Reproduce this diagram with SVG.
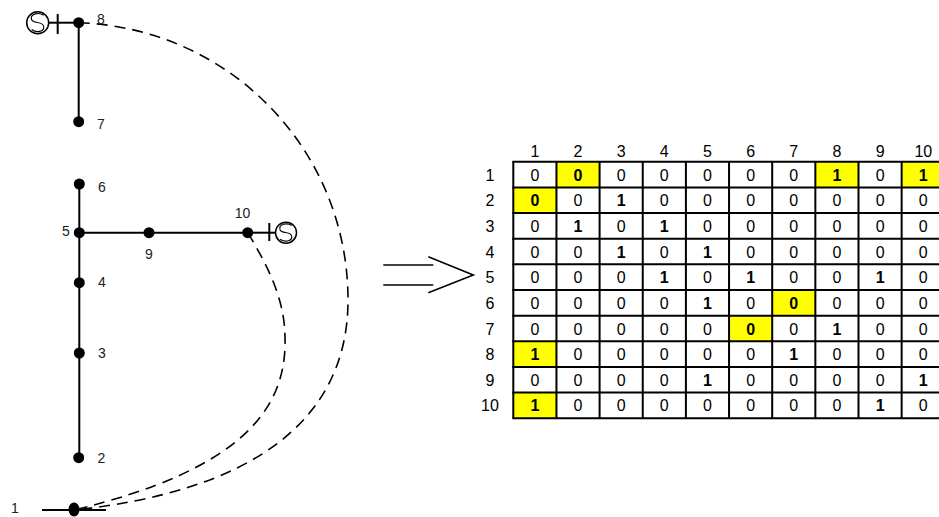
<svg xmlns="http://www.w3.org/2000/svg" width="939" height="517" viewBox="0 0 939 517">
<style>
.lbl{font-family:"Liberation Sans",Arial,sans-serif;font-size:14px;fill:#222}
.t{font-family:"Liberation Sans",Arial,sans-serif;font-size:16px;fill:#000;text-anchor:middle}
.b{font-weight:bold}
.ln{stroke:#000;stroke-width:2;fill:none}
.ds{stroke:#000;stroke-width:1.6;fill:none;stroke-dasharray:11 7}
.gen{stroke:#000;stroke-width:1.5;fill:#fff}
.s{stroke:#000;stroke-width:1.1;fill:none}
.grid{stroke:#000;stroke-width:2}
.hl{fill:#ffff00}
</style>
<rect width="939" height="517" fill="#fff"/>
<g id="connectors">
<line class="ln" x1="78.7" y1="22.7" x2="78.7" y2="121.7"/>
<line class="ln" x1="79.3" y1="184" x2="79.3" y2="457.7"/>
<line class="ln" x1="79.3" y1="232.7" x2="247.7" y2="232.7"/>
<line class="ln" x1="42" y1="510" x2="106" y2="510"/>
<path class="ds" d="M78.7,22.7 C230,28 348,150 348,300 C348,425 245,492 74,510"/>
<path class="ds" d="M247.7,232.7 C268,266 285,300 285,338 C287,410 240,470 74,510"/>
<line class="ln" x1="48.7" y1="22.7" x2="78.7" y2="22.7"/>
<line class="ln" x1="57.7" y1="14" x2="57.7" y2="34"/>
<line class="ln" x1="247.7" y1="232.7" x2="275.5" y2="232.7"/>
<line class="ln" x1="269.3" y1="223" x2="269.3" y2="241"/>
</g>
<g id="gen8">
<circle class="gen" cx="37.7" cy="22.7" r="11"/>
<path class="s" d="M43.7,15.2 C39,12 30,13.5 31.5,19.5 C33,24 43,21 43.7,26.5 C44.5,32 36,33 31.7,29.5"/>
</g>
<g id="gen10">
<circle class="gen" cx="286" cy="232.7" r="10.5"/>
<path class="s" d="M291.7,225.5 C287,222.5 278.5,224 280,229.7 C281.5,234 291,231 291.7,236.3 C292.5,241.5 284,242.5 280,239.2"/>
</g>
<g id="node8"><circle cx="78.7" cy="22.7" r="5.5"/><text class="lbl" x="97" y="24">8</text></g>
<g id="node7"><circle cx="78.7" cy="121.7" r="5.5"/><text class="lbl" x="97" y="129">7</text></g>
<g id="node6"><circle cx="79.3" cy="184" r="5.5"/><text class="lbl" x="98" y="191.5">6</text></g>
<g id="node5"><circle cx="79.3" cy="232.7" r="5.5"/><text class="lbl" x="62" y="236">5</text></g>
<g id="node9"><circle cx="149" cy="232.7" r="5.5"/><text class="lbl" x="149" y="259" text-anchor="middle">9</text></g>
<g id="node10"><circle cx="247.7" cy="232.7" r="5.5"/><text class="lbl" x="242.5" y="218" text-anchor="middle">10</text></g>
<g id="node4"><circle cx="79.3" cy="282.7" r="5.5"/><text class="lbl" x="98" y="287">4</text></g>
<g id="node3"><circle cx="79.3" cy="353" r="5.5"/><text class="lbl" x="98" y="358">3</text></g>
<g id="node2"><circle cx="78.7" cy="457.7" r="5.5"/><text class="lbl" x="97.5" y="462.7">2</text></g>
<g id="node1"><ellipse cx="74" cy="509.5" rx="5.5" ry="7"/><text class="lbl" x="11" y="512.7">1</text></g>
<g id="implies">
<line class="ln" style="stroke-width:1.6" x1="383.3" y1="265" x2="433.3" y2="265"/>
<line class="ln" style="stroke-width:1.6" x1="383.3" y1="285" x2="433.3" y2="285"/>
<polyline class="ln" style="stroke-width:1.6" points="428.3,256.7 473.3,275 428.3,292.7"/>
</g>
<g id="matrix">
<rect class="hl" x="556.45" y="161.7" width="43.15" height="25.66"/>
<rect class="hl" x="815.35" y="161.7" width="43.15" height="25.66"/>
<rect class="hl" x="901.65" y="161.7" width="43.15" height="25.66"/>
<rect class="hl" x="513.3" y="187.4" width="43.15" height="25.66"/>
<rect class="hl" x="772.2" y="290" width="43.15" height="25.66"/>
<rect class="hl" x="729.05" y="315.7" width="43.15" height="25.66"/>
<rect class="hl" x="513.3" y="341.3" width="43.15" height="25.66"/>
<rect class="hl" x="513.3" y="392.6" width="43.15" height="25.66"/>
<g class="grid">
<line x1="513.3" y1="161.7" x2="513.3" y2="418.3"/>
<line x1="556.45" y1="161.7" x2="556.45" y2="418.3"/>
<line x1="599.6" y1="161.7" x2="599.6" y2="418.3"/>
<line x1="642.75" y1="161.7" x2="642.75" y2="418.3"/>
<line x1="685.9" y1="161.7" x2="685.9" y2="418.3"/>
<line x1="729.05" y1="161.7" x2="729.05" y2="418.3"/>
<line x1="772.2" y1="161.7" x2="772.2" y2="418.3"/>
<line x1="815.35" y1="161.7" x2="815.35" y2="418.3"/>
<line x1="858.5" y1="161.7" x2="858.5" y2="418.3"/>
<line x1="901.65" y1="161.7" x2="901.65" y2="418.3"/>
<line x1="944.8" y1="161.7" x2="944.8" y2="418.3"/>
<line x1="512.3" y1="161.7" x2="945.8" y2="161.7"/>
<line x1="512.3" y1="187.4" x2="945.8" y2="187.4"/>
<line x1="512.3" y1="213" x2="945.8" y2="213"/>
<line x1="512.3" y1="238.7" x2="945.8" y2="238.7"/>
<line x1="512.3" y1="264.3" x2="945.8" y2="264.3"/>
<line x1="512.3" y1="290" x2="945.8" y2="290"/>
<line x1="512.3" y1="315.7" x2="945.8" y2="315.7"/>
<line x1="512.3" y1="341.3" x2="945.8" y2="341.3"/>
<line x1="512.3" y1="367" x2="945.8" y2="367"/>
<line x1="512.3" y1="392.6" x2="945.8" y2="392.6"/>
<line x1="512.3" y1="418.3" x2="945.8" y2="418.3"/>
</g>
<g id="colhead">
<text class="t" x="534.9" y="156.5">1</text><text class="t" x="578" y="156.5">2</text><text class="t" x="621.2" y="156.5">3</text><text class="t" x="664.3" y="156.5">4</text><text class="t" x="707.5" y="156.5">5</text><text class="t" x="750.6" y="156.5">6</text><text class="t" x="793.8" y="156.5">7</text><text class="t" x="837" y="156.5">8</text><text class="t" x="880.1" y="156.5">9</text><text class="t" x="923.3" y="156.5">10</text>
</g>
<g id="rowhead">
<text class="t" x="490" y="180.5">1</text><text class="t" x="490" y="206.2">2</text><text class="t" x="490" y="231.8">3</text><text class="t" x="490" y="257.5">4</text><text class="t" x="490" y="283.1">5</text><text class="t" x="490" y="308.8">6</text><text class="t" x="490" y="334.5">7</text><text class="t" x="490" y="360.1">8</text><text class="t" x="490" y="385.8">9</text><text class="t" x="490" y="411.4">10</text>
</g>
<g id="r1" transform="translate(0,180.5)"><text class="t" x="534.9">0</text><text class="t b" x="578">0</text><text class="t" x="621.2">0</text><text class="t" x="664.3">0</text><text class="t" x="707.5">0</text><text class="t" x="750.6">0</text><text class="t" x="793.8">0</text><text class="t b" x="837">1</text><text class="t" x="880.1">0</text><text class="t b" x="923.3">1</text></g>
<g id="r2" transform="translate(0,206.2)"><text class="t b" x="534.9">0</text><text class="t" x="578">0</text><text class="t b" x="621.2">1</text><text class="t" x="664.3">0</text><text class="t" x="707.5">0</text><text class="t" x="750.6">0</text><text class="t" x="793.8">0</text><text class="t" x="837">0</text><text class="t" x="880.1">0</text><text class="t" x="923.3">0</text></g>
<g id="r3" transform="translate(0,231.8)"><text class="t" x="534.9">0</text><text class="t b" x="578">1</text><text class="t" x="621.2">0</text><text class="t b" x="664.3">1</text><text class="t" x="707.5">0</text><text class="t" x="750.6">0</text><text class="t" x="793.8">0</text><text class="t" x="837">0</text><text class="t" x="880.1">0</text><text class="t" x="923.3">0</text></g>
<g id="r4" transform="translate(0,257.5)"><text class="t" x="534.9">0</text><text class="t" x="578">0</text><text class="t b" x="621.2">1</text><text class="t" x="664.3">0</text><text class="t b" x="707.5">1</text><text class="t" x="750.6">0</text><text class="t" x="793.8">0</text><text class="t" x="837">0</text><text class="t" x="880.1">0</text><text class="t" x="923.3">0</text></g>
<g id="r5" transform="translate(0,283.1)"><text class="t" x="534.9">0</text><text class="t" x="578">0</text><text class="t" x="621.2">0</text><text class="t b" x="664.3">1</text><text class="t" x="707.5">0</text><text class="t b" x="750.6">1</text><text class="t" x="793.8">0</text><text class="t" x="837">0</text><text class="t b" x="880.1">1</text><text class="t" x="923.3">0</text></g>
<g id="r6" transform="translate(0,308.8)"><text class="t" x="534.9">0</text><text class="t" x="578">0</text><text class="t" x="621.2">0</text><text class="t" x="664.3">0</text><text class="t b" x="707.5">1</text><text class="t" x="750.6">0</text><text class="t b" x="793.8">0</text><text class="t" x="837">0</text><text class="t" x="880.1">0</text><text class="t" x="923.3">0</text></g>
<g id="r7" transform="translate(0,334.5)"><text class="t" x="534.9">0</text><text class="t" x="578">0</text><text class="t" x="621.2">0</text><text class="t" x="664.3">0</text><text class="t" x="707.5">0</text><text class="t b" x="750.6">0</text><text class="t" x="793.8">0</text><text class="t b" x="837">1</text><text class="t" x="880.1">0</text><text class="t" x="923.3">0</text></g>
<g id="r8" transform="translate(0,360.1)"><text class="t b" x="534.9">1</text><text class="t" x="578">0</text><text class="t" x="621.2">0</text><text class="t" x="664.3">0</text><text class="t" x="707.5">0</text><text class="t" x="750.6">0</text><text class="t b" x="793.8">1</text><text class="t" x="837">0</text><text class="t" x="880.1">0</text><text class="t" x="923.3">0</text></g>
<g id="r9" transform="translate(0,385.8)"><text class="t" x="534.9">0</text><text class="t" x="578">0</text><text class="t" x="621.2">0</text><text class="t" x="664.3">0</text><text class="t b" x="707.5">1</text><text class="t" x="750.6">0</text><text class="t" x="793.8">0</text><text class="t" x="837">0</text><text class="t" x="880.1">0</text><text class="t b" x="923.3">1</text></g>
<g id="r10" transform="translate(0,411.4)"><text class="t b" x="534.9">1</text><text class="t" x="578">0</text><text class="t" x="621.2">0</text><text class="t" x="664.3">0</text><text class="t" x="707.5">0</text><text class="t" x="750.6">0</text><text class="t" x="793.8">0</text><text class="t" x="837">0</text><text class="t b" x="880.1">1</text><text class="t" x="923.3">0</text></g>
</g>
</svg>
